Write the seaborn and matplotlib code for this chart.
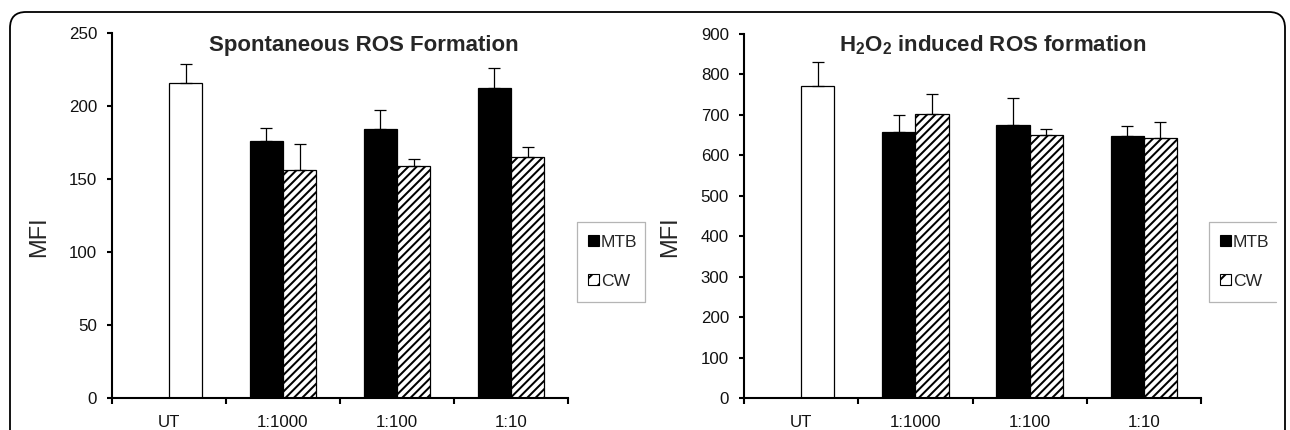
import numpy as np
import pandas as pd
import seaborn as sns
import matplotlib
matplotlib.use("Agg")
import matplotlib.pyplot as plt
from matplotlib.patches import FancyBboxPatch, Patch
from matplotlib.lines import Line2D

categories = ["UT", "1:1000", "1:100", "1:10"]
series = ["MTB", "CW"]

spont_mtb = [np.nan, 176, 184, 212]
spont_mtb_err = [np.nan, 9, 13, 14]
spont_cw = [216, 156, 159, 165]
spont_cw_err = [13, 18, 5, 7]

h2o2_mtb = [np.nan, 658, 674, 647]
h2o2_mtb_err = [np.nan, 42, 67, 26]
h2o2_cw = [771, 703, 650, 644]
h2o2_cw_err = [60, 49, 16, 39]

sns.set_style("white")
plt.rcParams["font.family"] = ["Liberation Sans", "DejaVu Sans"]
plt.rcParams["mathtext.fontset"] = "custom"
plt.rcParams["mathtext.rm"] = "Liberation Sans:bold"
plt.rcParams["mathtext.bf"] = "Liberation Sans:bold"
plt.rcParams["mathtext.it"] = "Liberation Sans:bold"
plt.rcParams["hatch.linewidth"] = 1.45

W, H = 1290, 430
fig = plt.figure(figsize=(12.9, 4.3), dpi=100)


def make_axes(x0, x1, ytop, ybot):
    return fig.add_axes([x0 / W, 1 - ybot / H, (x1 - x0) / W, (ybot - ytop) / H])


def draw(ax, mtb, mtb_err, cw, cw_err, ymax, ystep, title, tx):
    df = pd.DataFrame({
        "cat": categories * 2,
        "series": ["MTB"] * 4 + ["CW"] * 4,
        "val": list(mtb) + list(cw),
        "err": list(mtb_err) + list(cw_err),
    })
    dplot = df.dropna(subset=["val"])
    sns.barplot(data=dplot, x="cat", y="val", hue="series", order=categories,
                hue_order=series, palette={"MTB": "black", "CW": "white"},
                width=0.58, errorbar=None, edgecolor="black", linewidth=0.9,
                saturation=1, legend=False, ax=ax)
    for p in list(ax.patches):
        h = p.get_height()
        if not np.isfinite(h) or h == 0:
            continue
        xc = p.get_x() + p.get_width() / 2
        ci = int(round(xc))
        s = "MTB" if xc < ci else "CW"
        row = df[(df["cat"] == categories[ci]) & (df["series"] == s)].iloc[0]
        if s == "CW":
            p.set_facecolor("white")
            if categories[ci] != "UT":
                p.set_hatch("////")
        ax.errorbar([xc], [h], yerr=[[0], [row["err"]]], fmt="none",
                    ecolor="black", elinewidth=0.9, capsize=4.5, capthick=0.9)
    ax.set_xlim(-0.5, 3.5)
    ax.set_ylim(0, ymax)
    ax.set_yticks(np.arange(0, ymax + 1, ystep))
    ax.set_xlabel("")
    ax.set_ylabel("MFI", fontsize=17)
    for sp in ["top", "right"]:
        ax.spines[sp].set_visible(False)
    for sp in ["left", "bottom"]:
        ax.spines[sp].set_color("black")
        ax.spines[sp].set_linewidth(1.5)
    ax.set_xticks(np.arange(-0.5, 3.6, 1.0), minor=True)
    ax.tick_params(axis="x", which="major", length=0, pad=12.5, labelsize=12.2,
                   labelcolor="#111111")
    ax.tick_params(axis="x", which="minor", direction="out", length=4, width=1.5,
                   color="black", bottom=True)
    ax.tick_params(axis="y", which="major", direction="out", length=3.4, width=1.5,
                   color="black", pad=7.4, labelsize=12.2, left=True,
                   labelcolor="#111111")
    ax.text(tx, 0.952, title, transform=ax.transAxes, ha="center", va="baseline",
            fontsize=16, fontweight="bold")


ax1 = make_axes(112, 568, 33, 398)
draw(ax1, spont_mtb, spont_mtb_err, spont_cw, spont_cw_err, 250, 50,
     "Spontaneous ROS Formation", 0.5515)
ax1.yaxis.set_label_coords((50 - 112) / 456, (398 - 237) / 365)

ax2 = make_axes(744, 1201, 34, 398)
draw(ax2, h2o2_mtb, h2o2_mtb_err, h2o2_cw, h2o2_cw_err, 900, 100,
     r"H$_2$O$_2$ induced ROS formation", 0.545)
ax2.yaxis.set_label_coords((681 - 744) / 457, (398 - 237) / 364)

handles = [Patch(facecolor="black", edgecolor="black", linewidth=0.8),
           Patch(facecolor="white", edgecolor="black", hatch="//", linewidth=0.8)]
for lx, rx, closed in ((577, 645, True), (1209, 1276, False)):
    fig.legend(handles, series, loc="center left",
               bbox_to_anchor=((lx + 11) / W, 1 - 262 / H), fontsize=12.6,
               frameon=False, borderpad=0, labelspacing=1.37,
               handlelength=0.6, handleheight=0.6, handletextpad=0.15,
               borderaxespad=0)
    xs = [rx, lx, lx, rx] + ([rx] if closed else [])
    ys = [222, 222, 302, 302] + ([222] if closed else [])
    fig.add_artist(Line2D(xs, [H - y for y in ys], transform=None,
                          color="#b5b5b5", linewidth=0.9))

frame = FancyBboxPatch((10, -40), 1275, 430 - 12 + 40,
                       boxstyle="round,pad=0,rounding_size=16",
                       transform=None, facecolor="none", edgecolor="black",
                       linewidth=1.3)
fig.patches.append(frame)

fig.savefig("out.png", dpi=100)
